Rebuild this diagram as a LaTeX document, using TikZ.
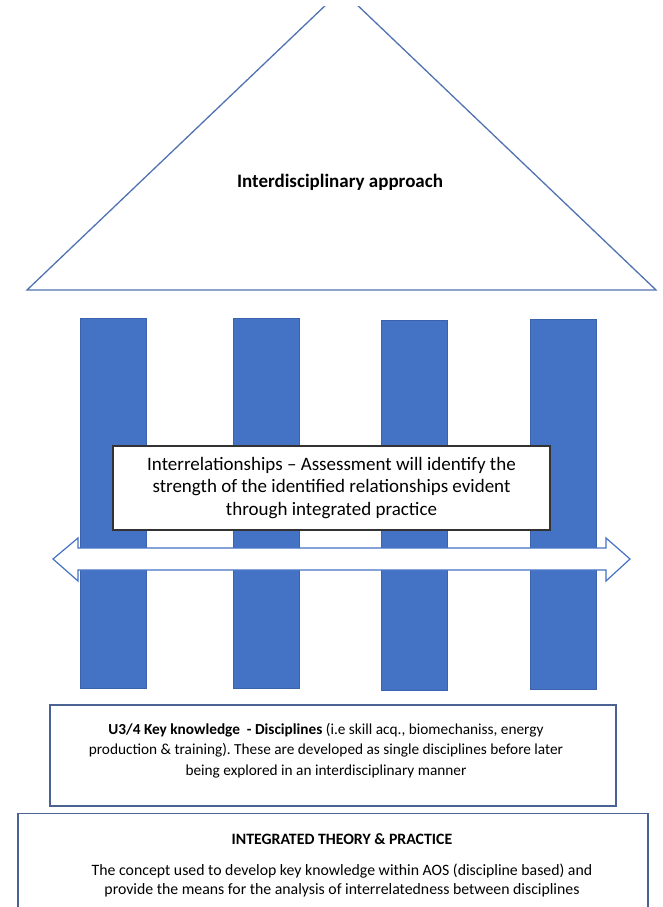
\documentclass[tikz,border=0pt]{standalone}
\usepackage{fontspec}
\setmainfont{Carlito}
\frenchspacing
\definecolor{pillarblue}{HTML}{4472C4}
\definecolor{pillaredge}{HTML}{3B63AB}
\definecolor{roofblue}{HTML}{5072B0}
\definecolor{boxedge}{HTML}{4A6294}
\tikzset{
  pillar/.style={draw=pillaredge, fill=pillarblue, line width=0.8pt, minimum width=66pt, minimum height=370pt, inner sep=0pt},
  infobox/.style={draw=boxedge, line width=1.4pt, inner sep=0pt},
}
\begin{document}
\begin{tikzpicture}[x=1pt, y=-1pt]
	\useasboundingbox (0,0) rectangle (663,907);
	\clip (0,7) rectangle (663,907);
	% roof
	\draw [roofblue, line width=1.3pt] (27,290) -- (341.5,-10) -- (656,290) -- cycle;
	\node (roof) at (340,182) {\fontsize{19}{22}\selectfont\bfseries Interdisciplinary approach};
	% pillars
	\node (p1)[pillar] at (113,503) {};
	\node (p2)[pillar] at (266,503) {};
	\node (p3)[pillar] at (414,505) {};
	\node (p4)[pillar] at (563,504) {};
	% double arrow across the pillars
	\draw [pillarblue, fill=white, line width=1.2pt] (53,559) -- (78,538) -- (78,548) -- (606,548) -- (606,538) -- (630,559)
		-- (606,581) -- (606,570) -- (78,570) -- (78,581) -- cycle;
	% boxes
	\node (rel)[draw=black!80, fill=white, line width=1.3pt, minimum width=437pt, minimum height=84pt, align=center,
		font=\fontsize{19}{22.5}\selectfont] at (331.5,488)
		{Interrelationships – Assessment will identify the\\ strength of the identified relationships evident\\ through integrated practice};
	\node (kk)[infobox, minimum width=566pt, minimum height=101pt] at (333,755.5) {};
	\node (kktext)[align=center, font=\fontsize{15.3}{20.5}\selectfont] at ([xshift=-7pt, yshift=5pt]kk.center)
		{\textbf{U3/4 Key knowledge\ \ - Disciplines} (i.e skill acq., biomechaniss, energy\\
		production \& training). These are developed as single disciplines before later\\
		being explored in an interdisciplinary manner};
	\node (itp)[infobox, minimum width=630pt, minimum height=120pt, anchor=north] at (333,813) {};
	\node (itptext)[align=center, anchor=north, inner sep=0pt, font=\fontsize{15.8}{18.5}\selectfont] at ([xshift=9pt, yshift=-20pt]itp.north)
		{\textbf{INTEGRATED THEORY \& PRACTICE}\\[13pt]
		The concept used to develop key knowledge within AOS (discipline based) and\\
		provide the means for the analysis of interrelatedness between disciplines};
\end{tikzpicture}
\end{document}
